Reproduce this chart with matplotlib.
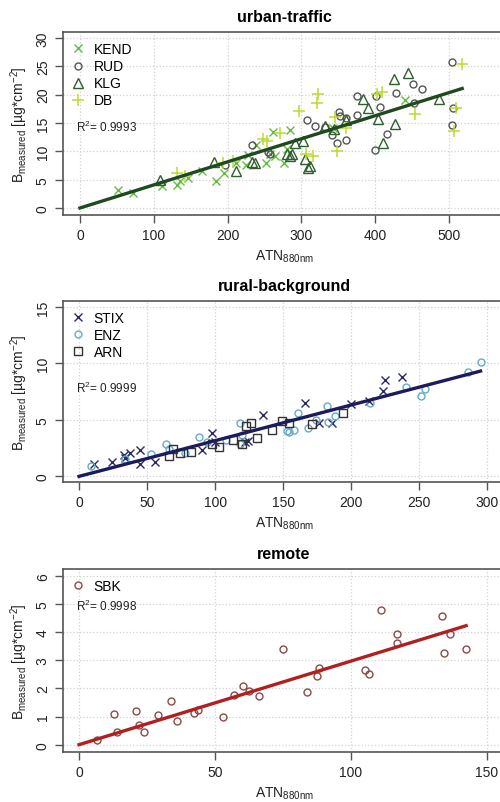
import matplotlib
matplotlib.use("Agg")
import matplotlib.pyplot as plt

plt.rcParams['font.family'] = ['Liberation Sans', 'DejaVu Sans']
plt.rcParams['mathtext.fontset'] = 'custom'
plt.rcParams['mathtext.rm'] = 'Liberation Sans'
plt.rcParams['mathtext.it'] = 'Liberation Sans:italic'

# urban-traffic stations
kend_x = [51, 72, 111, 131, 136, 147, 165, 184, 195, 212, 225, 228, 239, 252, 257, 262, 264, 276, 281, 284, 343, 440]
kend_y = [3.1, 2.7, 3.8, 4.0, 4.7, 5.3, 6.5, 4.7, 6.2, 8.0, 7.5, 9.3, 11.2, 7.9, 9.6, 13.4, 9.2, 7.9, 10.4, 13.8, 14.2, 19.1]
rud_x = [196, 233, 255, 258, 308, 318, 332, 342, 349, 351, 353, 360, 361, 376, 376, 400, 401, 406, 416, 428, 451, 452, 464, 504, 504, 506]
rud_y = [7.5, 11.2, 9.8, 9.6, 15.6, 14.4, 14.3, 12.8, 11.4, 16.9, 16.2, 12.0, 15.8, 19.7, 16.4, 10.2, 19.7, 17.9, 13.0, 20.3, 21.9, 18.6, 21.0, 14.6, 25.7, 17.6]
klg_x = [108, 181, 212, 233, 237, 281, 285, 287, 291, 302, 305, 309, 312, 332, 344, 360, 384, 391, 404, 410, 425, 427, 444, 486]
klg_y = [5.0, 8.2, 6.5, 8.1, 7.9, 9.6, 9.2, 9.5, 11.4, 11.8, 8.7, 7.1, 7.4, 14.4, 13.9, 15.6, 19.2, 17.6, 15.7, 11.4, 22.7, 14.8, 23.8, 19.2]
db_x = [131, 142, 194, 208, 248, 253, 271, 297, 306, 316, 321, 322, 346, 349, 361, 402, 409, 454, 507, 510, 518]
db_y = [6.2, 5.6, 8.0, 8.3, 12.1, 11.8, 13.3, 17.2, 9.5, 9.2, 18.6, 20.1, 16.0, 10.1, 14.2, 20.1, 20.5, 16.5, 13.6, 17.7, 25.4]

# rural-background stations
stix_x = [11, 24, 33, 34, 37.5, 45, 45, 56, 90, 98, 100, 122, 124, 135, 166, 176, 186, 200, 213, 223, 225, 237]
stix_y = [1.1, 1.3, 1.9, 1.6, 2.1, 2.3, 1.1, 1.3, 2.3, 3.8, 3.0, 3.0, 3.1, 5.4, 6.5, 4.7, 4.7, 6.4, 6.7, 7.6, 8.5, 8.8]
enz_x = [9, 34, 53, 64, 66, 78, 88, 94, 108, 118, 120, 118, 153, 154, 158, 161, 168, 174, 182, 183, 188, 214, 240, 251, 254, 286, 295]
enz_y = [0.9, 1.5, 2.0, 2.9, 2.4, 2.1, 3.5, 3.0, 3.2, 4.7, 3.7, 2.9, 4.0, 3.9, 4.1, 5.6, 4.3, 5.0, 6.2, 4.8, 5.3, 6.5, 7.9, 7.1, 7.7, 9.2, 10.1]
arn_x = [66, 69, 74, 82, 98, 103, 113, 120, 123, 126, 131, 142, 149, 154, 171, 194]
arn_y = [1.8, 2.4, 2.1, 2.2, 2.9, 2.6, 3.2, 2.9, 4.5, 4.7, 3.4, 4.1, 4.9, 4.7, 4.6, 5.6]

# remote station
sbk_x = [6.7, 13, 14.1, 20.8, 22.2, 24, 29.2, 33.7, 36, 42.3, 43.9, 52.8, 57.1, 60.2, 62.3, 66.3, 75, 83.7, 87.4, 88.4,
         105.1, 106.7, 111, 116.8, 116.8, 133.6, 134.2, 136.4, 142.3]
sbk_y = [0.18, 1.09, 0.46, 1.18, 0.71, 0.46, 1.07, 1.56, 0.83, 1.12, 1.24, 0.99, 1.78, 2.07, 1.89, 1.72, 3.41, 1.86, 2.45, 2.72,
         2.66, 2.5, 4.77, 3.94, 3.61, 4.56, 3.25, 3.93, 3.41]

# slope of fit through origin and R^2 text
slopes = [0.0407, 0.0316, 0.0297]
r2_labels = ['0.9993', '0.9999', '0.9998']
titles = ['urban-traffic', 'rural-background', 'remote']

W, H = 500, 803
fig = plt.figure(figsize=(W / 100, H / 100), dpi=100)


def make_axes(top_px, bottom_px):
    left_px, right_px = 63, 505
    return fig.add_axes([left_px / W, 1 - bottom_px / H, (right_px - left_px) / W, (bottom_px - top_px) / H])


def style_axes(ax, xlim, ylim, xticks, yticks, title, r2, r2_y):
    ax.set_xlim(xlim)
    ax.set_ylim(ylim)
    ax.set_xticks(xticks)
    ax.set_yticks(yticks)
    ax.grid(True, color='#d2d2d2', linestyle=':', linewidth=0.9)
    ax.set_axisbelow(True)
    for sp in ax.spines.values():
        sp.set_color('#555555')
        sp.set_linewidth(1.2)
    ax.tick_params(direction='out', length=5.5, width=1, color='#555555', labelsize=10, labelcolor='#222222', pad=4)
    plt.setp(ax.get_yticklabels(), rotation=90, va='center')
    ax.set_title(title, fontsize=11.5, fontweight='bold', pad=8)
    ax.set_xlabel(r'ATN$_{\mathrm{880nm}}$', fontsize=10, color='#222222', labelpad=4)
    ax.set_ylabel(r'B$_{\mathrm{measured}}$ [µg*cm$^{-2}$]', fontsize=10, color='#222222', labelpad=4)
    ax.text(0.03, r2_y, r'R$^2$= ' + r2, transform=ax.transAxes, fontsize=8.5, va='center', color='#222222')
    ax.legend(loc='upper left', bbox_to_anchor=(0.019, 0.945), frameon=False, fontsize=10,
              handlelength=1.0, handletextpad=0.6, labelspacing=0.22, borderpad=0, borderaxespad=0)


def fit_line(ax, xs, slope, color):
    xmax = max(max(x) for x in xs)
    ax.plot([0, xmax], [0, slope * xmax], color=color, linewidth=2.4, zorder=3)


# urban-traffic
ax1 = make_axes(33.3, 215.5)
ax1.plot(kend_x, kend_y, 'x', color='#66bb44', ms=6, mew=1.0, label='KEND', zorder=2)
ax1.plot(rud_x, rud_y, 'o', mfc='none', mec='#555555', ms=5, mew=1.0, label='RUD', zorder=2)
ax1.plot(klg_x, klg_y, '^', mfc='none', mec='#2f5f2f', ms=7, mew=1.0, label='KLG', zorder=2)
ax1.plot(db_x, db_y, '+', color='#bbdd33', ms=8, mew=1.1, label='DB', zorder=2)
fit_line(ax1, [kend_x, rud_x, klg_x, db_x], slopes[0], '#1f4a1f')
style_axes(ax1, (-23, 576), (-1.15, 31.0), range(0, 501, 100), range(0, 31, 5), titles[0], r2_labels[0], 0.486)

# rural-background
ax2 = make_axes(302.3, 483)
ax2.plot(stix_x, stix_y, 'x', color='#2a2a66', ms=6, mew=1.0, label='STIX', zorder=2)
ax2.plot(enz_x, enz_y, 'o', mfc='none', mec='#66aacc', ms=5, mew=1.0, label='ENZ', zorder=2)
ax2.plot(arn_x, arn_y, 's', mfc='none', mec='#333333', ms=5.5, mew=1.0, label='ARN', zorder=2)
fit_line(ax2, [stix_x, enz_x, arn_x], slopes[1], '#1c1c5c')
style_axes(ax2, (-11.8, 313), (-0.5, 15.5), range(0, 301, 50), range(0, 16, 5), titles[1], r2_labels[1], 0.526)

# remote
ax3 = make_axes(570, 753)
ax3.plot(sbk_x, sbk_y, 'o', mfc='none', mec='#8a4a4a', ms=5, mew=1.0, label='SBK', zorder=2)
fit_line(ax3, [sbk_x], slopes[2], '#b02020')
style_axes(ax3, (-5.9, 156.6), (-0.26, 6.24), range(0, 151, 50), range(0, 7, 1), titles[2], r2_labels[2], 0.803)

plt.savefig('out.png', dpi=100, facecolor='white')
plt.close()
